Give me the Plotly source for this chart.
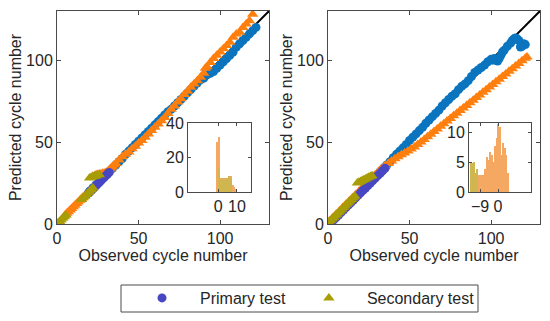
import plotly.graph_objects as go

# ---------------- data ----------------
# Left panel
L_blue_x = [20,22,24,26,28,30,32,34,36,38,40,42,44,46,48,50,52,54,56,58,60,62,64,66,68,70,72,74,76,78,80,82,84,86,88,90,92,94,96,98,100,102,104,106,108,110,112,114,116,118,120,122]
L_blue_y = [20,22,24,26,28,30,32,34,36,38,40,42.5,44.5,46.5,48.5,50.5,52.5,54.5,56.5,58.5,60.5,62.5,64.5,66.5,68.5,70,72,74,76,78,80,82,84,86,88,89,91,92,93,95,97,99,101,103,105,108,110,112,114,116,118,120]

L_orange_x = [5,6,7,8,9,10,11,12,13,14,15,16,22,23,24,25,26,27,28,29,30,31,32,33,34,35,36,38,40,42,44,46,48,50,52,54,56,58,60,62,64,66,68,70,72,74,76,78,80,82,84,86,88,90,91,92,94,96,98,100,102,104,106,108,110,112,114,116,118,120]
L_orange_y = [5.5,6.5,7.5,8.5,9.5,10.5,11.5,12.5,13.5,14.5,15.5,16.5,29,29.5,30,30,30.5,30.5,31,31,31.5,32,33,34,35,36,37,39,41,42.5,44,46,47.5,49.5,51,53,55,57,59,61,63,65,67.5,70,72,74.5,76.5,79,81,83.5,85.5,87.5,89.5,92,95,96,98.5,101,103,105,107,109,111,114,116,117,120,122,124,128]

L_ptest_x = [19,20,21,22,23,24,25,26,27,28,29,30,31,32]
L_ptest_y = [18.5,19.5,20.5,21.5,22.5,23.5,24.5,25.5,26.5,27.5,28.5,29.5,30.5,31.5]

L_stest_x = [0.5,1.5,2.5,3.5,4.5,5.5,15,16,17,18,19,20,21,22,20,21,22,23,24,25,26]
L_stest_y = [0.5,1.5,2.5,3.5,4.5,5.5,15,16,17,18,19,20,21,22,28,28.5,29,29,29.5,30,30]

# Right panel
R_blue_x = [22,24,26,28,30,32,34,36,38,40,42,44,46,48,50,52,54,56,58,60,62,64,66,68,70,72,74,76,78,80,82,84,86,88,90,92,94,96,98,100,101,102,103,104,105,106,107,108,110,112,113,114,115,116,117,118,119,120,121]
R_blue_y = [22,24,26,28,30,32,34,36,38,40.5,42.5,44.5,46.5,48.5,51,53,55,57,59,61.5,63.5,65.5,67.5,69.5,72,74,76,78,79.5,82,84,85.5,87.5,90,92.5,94,95.5,97,99,100.5,100,101,100,99.5,101,103,105,106,108.5,110.5,112,113,113.5,113,112,108,108.5,110,109.5]

R_orange_x = [1,3,5,7,9,11,13,15,17,19,21,23,25,27,29,31,33,35,37,39,41,43,45,47,49,51,53,55,57,59,61,63,65,67,69,71,73,75,77,79,81,83,85,87,89,91,93,95,97,99,101,103,105,107,109,111,113,115,117,119,121,122]
R_orange_y = [2,4,6,8,10,12,14,16,18,20,22,24,26,28,30,32,34,35.5,37,38.5,39.8,41,42.2,43.4,44.6,45.8,47,48.5,50,51.6,53.2,54.8,56.4,58,59.6,61.2,62.8,64.4,66,67.6,69.2,70.8,72.4,74,75.6,77.2,78.8,80.4,82,83.6,85.2,86.8,88.4,90,91.6,93.2,94.8,96.4,98,99.6,101.2,102]

R_ptest_x = [0.5,2,3.5,5,6.5,8,9.5,11,12.5,14,15.5,17,18.5,20,21.5,23,24.5,26,27.5,29,30.5,32,33.5,35]
R_ptest_y = [0,1,2.5,4,5.5,7,8.5,10,11.5,13,14.5,16,17.5,19,20.5,22,23.5,25,26.5,28,29.5,31,32.5,34]

R_stest_x = [0.5,1.5,2.5,3.5,4.5,5.5,6.5,7.5,8.5,9.5,10.5,11.5,12.5,13.5,14.5,15.5,16.5,18,19,20,21,22,23,24,25,26,27]
R_stest_y = [1,2,3,4,5,6,7,8,9,10,11,12,13,14,15,16,17,25,25.5,26,26.5,27,27.5,28,28.5,29,29.5]

# Insets (error histograms)
LH_bins = [-0.25,0.65,1.5,2.4,3.3,4.2,5.1,6.0,6.9,7.8,8.7,9.6]
LH_secondary = [29,32,8,8,8,8,8,8,9,4,3,2]
LH_primary = [0,14,7,8,7,8,7,9,8,0,0,0]

RH_bins = [-13.4,-12.6,-11.8,-11.0,-10.2,-9.4,-8.6,-7.8,-7.0,-6.2,-5.4,-4.6,-3.8,-3.0,-2.2,-1.4,-0.6,0.2,1.0,1.8,2.6,3.4,4.2,5.0]
RH_secondary = [4.8,4.8,5,3.1,3.8,2.8,2.8,2.8,2.8,3.9,5.9,5.3,6.7,6.2,5,7.6,9,11.4,10.9,6.2,8.1,7.3,6.2,3.1]
RH_primary = [4.8,4.8,5,3.1,3.8,0,0,0,0,0,0,0,0,0,0,0,0,0,0,0,0,0,0,0]

DIAG = [0, 130]

# ---------------- style ----------------
C_BLUE = "#0A74BF"
C_ORANGE = "#FF7F0E"
C_PTEST = "#4747C4"
C_STEST = "#A89D05"
C_H_SEC = "#F4A862"
C_H_PRI = "#CFB64E"
AX = "#4a4a4a"
TXT = "#262626"
FONT = "Liberation Sans, Arial, sans-serif"
FS = 16

fig = go.Figure()

def panel(xa, ya, bx, by, ox, oy, px, py, sx, sy):
    fig.add_trace(go.Scatter(x=DIAG, y=DIAG, mode="lines", line=dict(color="black", width=2),
                             xaxis=xa, yaxis=ya, showlegend=False, hoverinfo="skip"))
    fig.add_trace(go.Scatter(x=bx, y=by, mode="markers", xaxis=xa, yaxis=ya, showlegend=False,
                             marker=dict(symbol="circle", size=9, color=C_BLUE, line=dict(width=0))))
    fig.add_trace(go.Scatter(x=ox, y=oy, mode="markers", xaxis=xa, yaxis=ya, showlegend=False,
                             marker=dict(symbol="triangle-up", size=10, color=C_ORANGE, line=dict(width=0))))
    first = xa == "x"
    fig.add_trace(go.Scatter(x=px, y=py, mode="markers", xaxis=xa, yaxis=ya, name="Primary test",
                             showlegend=first, legendgroup="p",
                             marker=dict(symbol="circle", size=9, color=C_PTEST, line=dict(width=0))))
    fig.add_trace(go.Scatter(x=sx, y=sy, mode="markers", xaxis=xa, yaxis=ya, name="Secondary test",
                             showlegend=first, legendgroup="s",
                             marker=dict(symbol="triangle-up", size=10, color=C_STEST, line=dict(width=0))))

panel("x", "y", L_blue_x, L_blue_y, L_orange_x, L_orange_y, L_ptest_x, L_ptest_y, L_stest_x, L_stest_y)
panel("x2", "y2", R_blue_x, R_blue_y, R_orange_x, R_orange_y, R_ptest_x, R_ptest_y, R_stest_x, R_stest_y)

for xa, ya, bins, sec, pri, w in [("x3", "y3", LH_bins, LH_secondary, LH_primary, 0.9),
                                  ("x4", "y4", RH_bins, RH_secondary, RH_primary, 0.8)]:
    fig.add_trace(go.Bar(x=bins, y=sec, width=w, marker=dict(color=C_H_SEC, line=dict(width=0)),
                         xaxis=xa, yaxis=ya, showlegend=False))
    fig.add_trace(go.Bar(x=bins, y=pri, width=w, marker=dict(color=C_H_PRI, line=dict(width=0)),
                         xaxis=xa, yaxis=ya, showlegend=False))

def ax(**kw):
    d = dict(showline=True, linecolor=AX, linewidth=1, mirror="ticks", ticks="inside", ticklen=4,
             tickcolor=AX, showgrid=False, zeroline=False, tickfont=dict(size=FS, color=TXT, family=FONT),
             fixedrange=True, automargin=False)
    d.update(kw)
    return d

main_ticks = dict(range=[0, 130], tickvals=[0, 50, 100])
ydom = [1 - 224/321, 1 - 11/321]
xt = dict(text="Observed cycle number", font=dict(size=FS, color=TXT, family=FONT), standoff=0)
yt = dict(text="Predicted cycle number", font=dict(size=FS, color=TXT, family=FONT), standoff=0)

idom_y = [1 - 192/321, 1 - 123/321]

fig.update_layout(
    width=550, height=321,
    margin=dict(l=0, r=0, t=0, b=0, autoexpand=False),
    paper_bgcolor="white", plot_bgcolor="rgba(0,0,0,0)",
    font=dict(family=FONT, color=TXT, size=FS),
    barmode="overlay", bargap=0,
    xaxis=ax(domain=[57/550, 269/550], anchor="y", title=xt, **main_ticks),
    yaxis=ax(domain=ydom, anchor="x", title=yt, **main_ticks),
    xaxis2=ax(domain=[328/550, 540/550], anchor="y2", title=xt, **main_ticks),
    yaxis2=ax(domain=ydom, anchor="x2", title=yt, **main_ticks),
    xaxis3=ax(domain=[188/550, 251/550], anchor="y3", range=[-16, 17.5], tickvals=[0, 10], ticklen=3),
    yaxis3=ax(domain=idom_y, anchor="x3", range=[0, 40], tickvals=[0, 20, 40], ticklen=3),
    xaxis4=ax(domain=[469/550, 531/550], anchor="y4", range=[-14.5, 16.5], tickvals=[-9, 0], ticklen=3),
    yaxis4=ax(domain=idom_y, anchor="x4", range=[0, 11.5], tickvals=[0, 5, 10], ticklen=3),
    legend=dict(orientation="h", x=124/550, xanchor="left", y=1 - 298/321, yanchor="middle",
                itemwidth=66, bgcolor="rgba(0,0,0,0)", borderwidth=0,
                font=dict(size=FS, color=TXT, family=FONT)),
    shapes=[dict(type="rect", xref="paper", yref="paper", x0=121/550, x1=478/550,
                 y0=1 - 312/321, y1=1 - 285/321, line=dict(color=AX, width=1), fillcolor="rgba(0,0,0,0)")],
)

fig.write_html("out.html", config={"displayModeBar": False},
               post_script="document.body.style.margin='0';document.body.style.padding='0';")
